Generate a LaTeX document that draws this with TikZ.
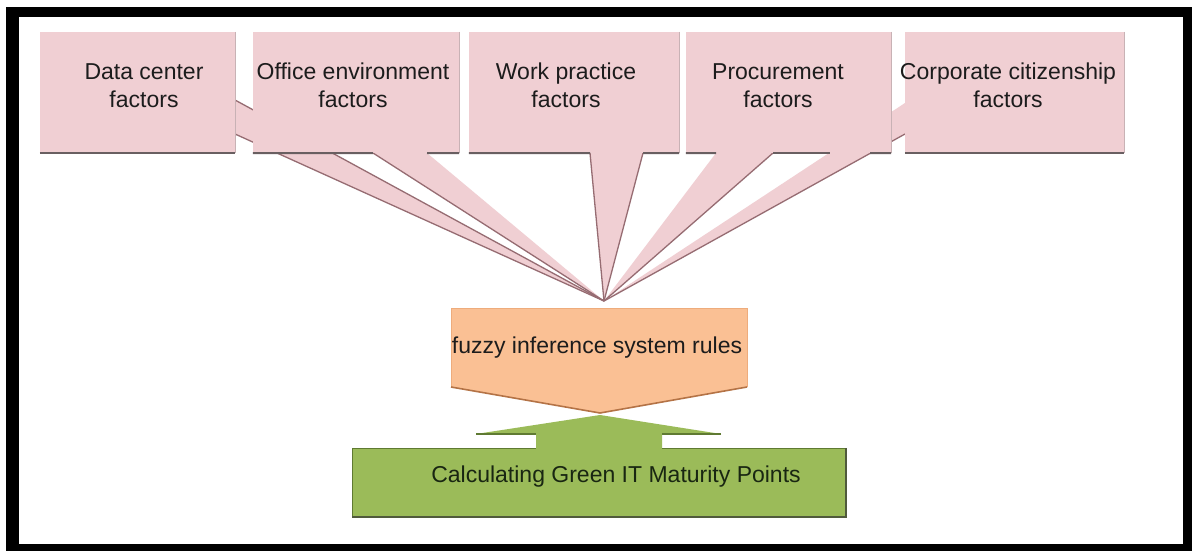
\documentclass[tikz,border=0pt]{standalone}
\usepackage{fontspec}
\setmainfont{Liberation Sans}
\definecolor{pinkfill}{RGB}{240,207,211}
\definecolor{tailline}{RGB}{150,108,114}
\definecolor{boxshadow}{RGB}{105,95,97}
\definecolor{boxside}{RGB}{200,178,181}
\definecolor{orangefill}{RGB}{250,192,148}
\definecolor{orangeline}{RGB}{180,115,70}
\definecolor{orangelight}{RGB}{238,172,124}
\definecolor{greenfill}{RGB}{155,187,89}
\definecolor{greenline}{RGB}{95,122,50}
\definecolor{greenshadow}{RGB}{80,90,60}
\definecolor{txt}{RGB}{28,28,28}
\definecolor{gtxt}{RGB}{25,38,18}
\begin{document}
\begin{tikzpicture}[x=1pt,y=-1pt,
  pinkbox/.style={fill=pinkfill,draw=none,inner sep=0pt,minimum height=121pt},
  tailfill/.style={fill=pinkfill},
  tailedge/.style={draw=tailline,line width=1.3pt},
  shadowline/.style={draw=boxshadow,line width=2pt},
  sideline/.style={draw=boxside,line width=1pt},
  label/.style={text=txt,align=center,inner sep=0pt,font=\fontsize{23}{28}\selectfont}]
\useasboundingbox (0,0) rectangle (1192,551);
% frame
\fill[white] (0,0) rectangle (1192,551);
\fill[black] (6,7) rectangle (1192,551);
\fill[white] (19,17) rectangle (1183,544);

\coordinate (hub) at (604,301);
% callout tails
\fill[tailfill] (235,100) -- (hub) -- (235,134) -- cycle;
\fill[tailfill] (373,153) -- (hub) -- (427,153) -- cycle;
\fill[tailfill] (590,153) -- (hub) -- (643,153) -- cycle;
\fill[tailfill] (716,153) -- (hub) -- (773,153) -- cycle;
\fill[tailfill] (905,103) -- (hub) -- (905,134) -- cycle;
\draw[tailedge] (235,100) -- (hub);
\draw[tailedge] (235,134) -- (hub);
\draw[tailedge] (373,153) -- (hub);
\draw[tailedge] (590,153) -- (hub);
\draw[tailedge] (643,153) -- (hub);
\draw[tailedge] (773,153) -- (hub);
\draw[tailedge] (905,134) -- (hub);

% boxes
\node[pinkbox,minimum width=195pt] (b1) at (137.5,92.5) {};
\node[pinkbox,minimum width=206pt] (b2) at (356,92.5) {};
\node[pinkbox,minimum width=210pt] (b3) at (574,92.5) {};
\node[pinkbox,minimum width=205pt] (b4) at (788.5,92.5) {};
\node[pinkbox,minimum width=219pt] (b5) at (1014.5,92.5) {};

\foreach \b in {b1,b2,b3,b4,b5}{\draw[sideline] (\b.north east) -- (\b.south east);}
\draw[shadowline] (b1.south west) -- (b1.south east);
\draw[shadowline] (b2.south west) -- (373,153);
\draw[shadowline] (427,153) -- (b2.south east);
\draw[shadowline] (b3.south west) -- (590,153);
\draw[shadowline] (643,153) -- (b3.south east);
\draw[shadowline] (b4.south west) -- (716,153);
\draw[shadowline] (773,153) -- (830,153);
\draw[shadowline] (870,153) -- (b4.south east);
\draw[shadowline] (b5.south west) -- (b5.south east);

\node[label] (t1) at (144,85.5) {Data center\\factors};
\node[label] (t2) at (353,85.5) {Office environment\\factors};
\node[label] (t3) at (566,85.5) {Work practice\\factors};
\node[label] (t4) at (778,85.5) {Procurement\\factors};
\node[label] (t5) at (1008,85.5) {Corporate citizenship\\factors};

% fuzzy inference block
\fill[orangefill] (451,308) -- (747,308) -- (747,387) -- (600,413) -- (451,387) -- cycle;
\draw[orangelight,line width=1pt] (451,387) -- (451,308) -- (747,308) -- (747,387);
\draw[orangeline,line width=1.6pt] (451,387) -- (600,413) -- (747,387);
\node[label,anchor=base] (fis) at (597,353) {fuzzy inference system rules};

% green result block with up arrow
\fill[greenfill] (352,448) -- (536,448) -- (536,434) -- (476,434) -- (600,415)
  -- (721,434) -- (662,434) -- (662,448) -- (846,448) -- (846,517) -- (352,517) -- cycle;
\draw[greenline,line width=1.4pt] (476,434) -- (536,434);
\draw[greenline,line width=1.4pt] (662,434) -- (721,434);
\draw[greenline,line width=0.8pt] (352,517) -- (352,448) -- (536,448);
\draw[greenline,line width=0.8pt] (662,448) -- (846,448);
\draw[greenshadow,line width=1.6pt] (352,517) -- (846,517) -- (846,448);
\node[label,anchor=base,text=gtxt] (calc) at (616,482) {Calculating Green IT Maturity Points};
\end{tikzpicture}
\end{document}
